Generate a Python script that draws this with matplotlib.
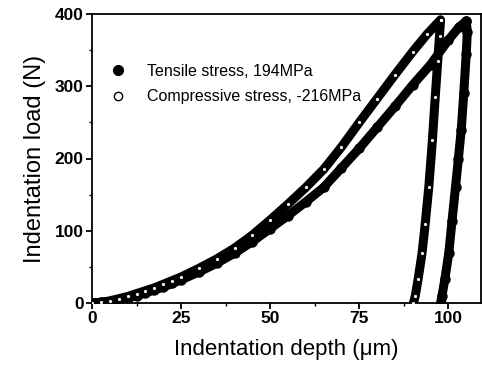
import matplotlib
matplotlib.use("Agg")
import matplotlib.pyplot as plt
from matplotlib.lines import Line2D
from matplotlib.ticker import MultipleLocator

plt.rcParams['font.family'] = ['Liberation Sans', 'DejaVu Sans']

# Compressive stress (-216 MPa), open circles
comp_load_h = [0, 2.5, 5, 7.5, 10, 12.5, 15, 17.5, 20, 22.5, 25, 30, 35, 40, 45, 50,
               55, 60, 65, 70, 75, 80, 85, 90, 94, 97.8]
comp_load_P = [0, 1, 3, 6, 9, 13, 17, 21, 26, 31, 36, 48, 61, 76, 94, 115,
               137, 160, 185, 216, 250, 283, 316, 348, 372, 392]
comp_unload_h = [97.8, 97.5, 97.0, 96.3, 95.5, 94.5, 93.5, 92.6, 91.5, 90.7, 90.2]
comp_unload_P = [392, 370, 335, 285, 225, 161, 110, 69, 33, 10, 0]

# Tensile stress (194 MPa), filled circles
tens_load_h = [0, 2.5, 5, 7.5, 10, 12.5, 15, 17.5, 20, 22.5, 25, 30, 35, 40, 45, 50,
               55, 60, 65, 70, 75, 80, 85, 90, 95, 100, 103, 105]
tens_load_P = [0, 1, 2, 4, 7, 10, 14, 18, 22, 27, 32, 43, 55, 69, 85, 103,
               121, 140, 160, 187, 214, 243, 272, 302, 330, 364, 382, 390]
tens_unload_h = [105.0, 105.3, 105.0, 104.3, 103.6, 102.8, 102.0, 101.0, 100.1, 99.0, 98.2, 97.8]
tens_unload_P = [390, 375, 345, 290, 240, 200, 161, 113, 69, 33, 10, 0]

legend_labels = ["Tensile stress, 194MPa", "Compressive stress, -216MPa"]

fig = plt.figure(figsize=(4.82, 3.73), dpi=100)
ax = fig.add_axes([92 / 482, 70 / 373, 388.5 / 482, 289 / 373])

band = 6.5
# tensile: filled band
th = tens_load_h + tens_unload_h
tp = tens_load_P + tens_unload_P
ax.plot(th, tp, color='black', lw=band, solid_capstyle='round', solid_joinstyle='round', zorder=2)
ax.plot(th, tp, ls='none', marker='o', ms=band, mfc='black', mec='black', zorder=2)

# compressive: open circles heavily overlapped
ch = comp_load_h + comp_unload_h
cp = comp_load_P + comp_unload_P
ax.plot(ch, cp, color='black', lw=band, solid_capstyle='round', solid_joinstyle='round', zorder=3)
ax.plot(ch, cp, ls='none', marker='o', ms=2.0, mfc='white', mec='white', mew=0.3, zorder=4)

ax.set_xlim(0, 109)
ax.set_ylim(0, 400)
ax.xaxis.set_major_locator(MultipleLocator(25))
ax.xaxis.set_minor_locator(MultipleLocator(12.5))
ax.yaxis.set_major_locator(MultipleLocator(100))
ax.yaxis.set_minor_locator(MultipleLocator(50))
ax.tick_params(which='major', direction='out', length=4, width=1.3, labelsize=12.5, pad=2)
ax.tick_params(which='minor', direction='out', length=2.5, width=1.0)
for lab in ax.get_xticklabels() + ax.get_yticklabels():
    lab.set_fontweight('bold')
for s in ax.spines.values():
    s.set_linewidth(1.3)

ax.set_xlabel("Indentation depth (\u03bcm)", fontsize=16, labelpad=9)
ax.set_ylabel("Indentation load (N)", fontsize=17, labelpad=6)

handles = [Line2D([], [], ls='none', marker='o', ms=7, mfc='black', mec='black'),
           Line2D([], [], ls='none', marker='o', ms=6, mfc='white', mec='black', mew=1.0)]
ax.legend(handles, legend_labels, loc='upper left', bbox_to_anchor=(0.025, 0.85),
          frameon=False, fontsize=11.5, handletextpad=1.25, labelspacing=0.65,
          handlelength=1.2, borderaxespad=0)

fig.savefig("out.png", dpi=100)
